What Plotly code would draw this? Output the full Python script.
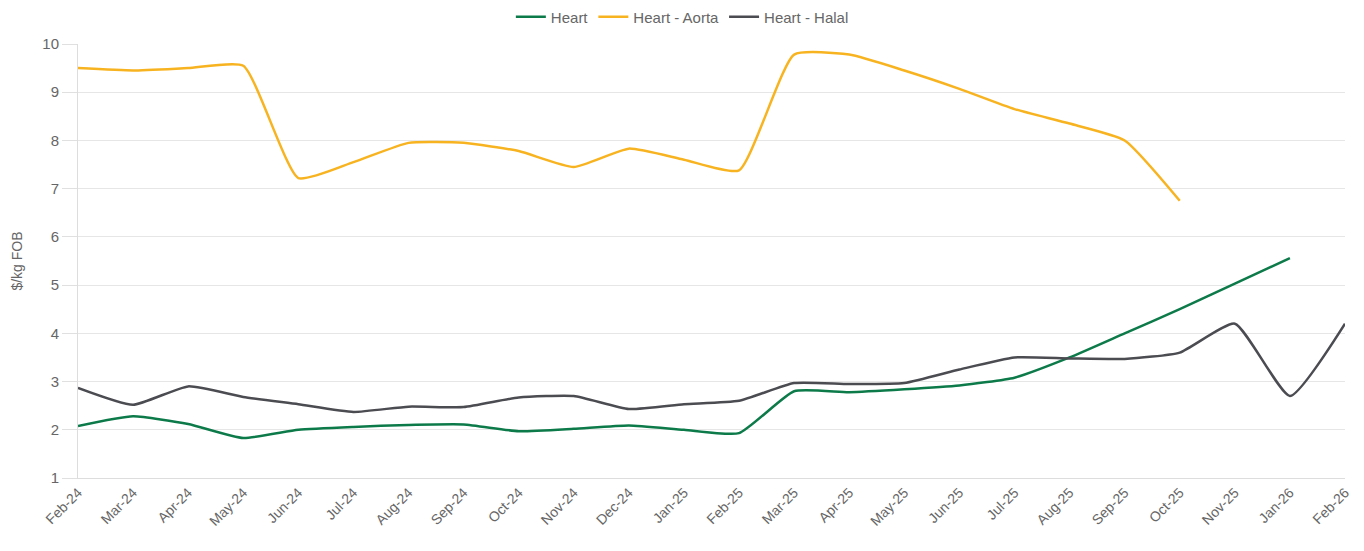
import plotly.graph_objects as go

months = ["Feb-24", "Mar-24", "Apr-24", "May-24", "Jun-24", "Jul-24", "Aug-24", "Sep-24",
          "Oct-24", "Nov-24", "Dec-24", "Jan-25", "Feb-25", "Mar-25", "Apr-25", "May-25",
          "Jun-25", "Jul-25", "Aug-25", "Sep-25", "Oct-25", "Nov-25", "Jan-26", "Feb-26"]

heart = [2.08, 2.28, 2.12, 1.83, 2.00, 2.06, 2.10, 2.11, 1.97, 2.02, 2.09, 2.00,
         1.93, 2.80, 2.78, 2.84, 2.92, 3.08, 3.50, 4.00, 4.50, 5.03, 5.56, None]
aorta = [9.50, 9.45, 9.50, 9.55, 7.22, 7.55, 7.95, 7.95, 7.78, 7.45, 7.83, 7.60,
         7.38, 9.78, 9.78, 9.45, 9.07, 8.65, 8.35, 8.00, 6.75, None, None, None]
halal = [2.87, 2.52, 2.90, 2.68, 2.53, 2.37, 2.48, 2.47, 2.67, 2.70, 2.43, 2.53,
         2.60, 2.97, 2.95, 2.97, 3.25, 3.50, 3.48, 3.47, 3.60, 4.20, 2.70, 4.20]

series = [("Heart", heart, "#0d7a4a"), ("Heart - Aorta", aorta, "#f8b320"),
          ("Heart - Halal", halal, "#4b4b52")]

fig = go.Figure()
for name, vals, col in series:
    fig.add_trace(go.Scatter(x=months, y=vals, name=name, mode="lines",
                             line=dict(color=col, width=2.5, shape="spline", smoothing=0.5),
                             connectgaps=False))

# page body has an 8px margin, so the figure origin sits at (8, 8)
fig.update_layout(
    width=1348, height=535,
    margin=dict(l=70, r=11, t=36, b=65, autoexpand=False),
    plot_bgcolor="white", paper_bgcolor="white",
    font=dict(family="Liberation Sans, Arial, sans-serif", size=14, color="#666666"),
    legend=dict(orientation="h", x=0.477, xanchor="center", y=1.062, yanchor="middle",
                yref="paper", font=dict(size=15, color="#666666"),
                itemwidth=30, traceorder="normal"),
    showlegend=True,
)
fig.update_xaxes(type="category", tickangle=-45, showgrid=False, showline=True,
                 linecolor="#dddddd", linewidth=1, ticks="", tickfont=dict(size=14, color="#666666"),
                 range=[0, len(months) - 1])
fig.update_yaxes(range=[1, 10], dtick=1, showgrid=True, gridcolor="#e6e6e6", gridwidth=1,
                 showline=True, linecolor="#dddddd", ticks="outside", ticklen=15,
                 tickcolor="#e0e0e0", tickwidth=1, zeroline=False,
                 tickfont=dict(size=15, color="#666666"),
                 title=dict(text="$/kg FOB", font=dict(size=14, color="#666666"), standoff=16))

fig.write_html("out.html")
